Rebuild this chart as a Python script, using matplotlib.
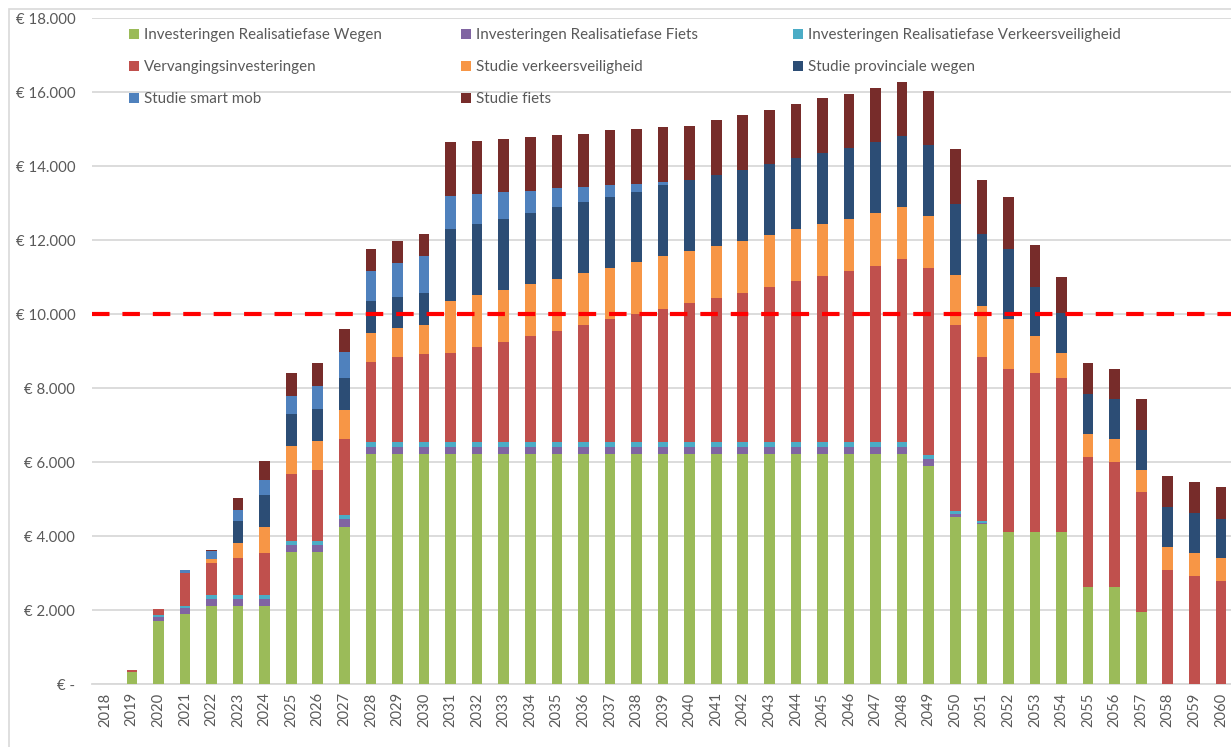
# investeringen per jaar, gestapeld per categorie
import numpy as np
import matplotlib
matplotlib.use('Agg')
import matplotlib.pyplot as plt
from matplotlib.patches import Rectangle
from matplotlib.legend import Legend

years = [str(y) for y in range(2018, 2061)]

wegen = [0, 330, 1710, 1900, 2115, 2115, 2115, 3560, 3560, 4250] + [6220] * 21 + \
    [5890, 4515, 4325, 4110, 4110, 4110, 2630, 2630, 1955, 0, 0, 0]
fiets = [0, 0, 110, 160, 190, 190, 190, 195, 195, 200] + [190] * 21 + \
    [180, 75, 30, 0, 0, 0, 0, 0, 0, 0, 0, 0]
verkeersveiligheid = [0, 0, 45, 55, 100, 100, 100, 110, 110, 110] + [125] * 21 + \
    [120, 90, 45, 0, 0, 0, 0, 0, 0, 0, 0, 0]
vervanging = [0, 45, 155, 875, 870, 990, 1140, 1810, 1930, 2060,
              2170, 2290, 2380, 2410, 2580, 2710, 2865, 3010, 3170, 3325,
              3460, 3605, 3760, 3900, 4045, 4190, 4355, 4490, 4630, 4775,
              4945, 5060, 5035, 4440, 4405, 4295, 4155, 3495, 3370, 3235,
              3090, 2920, 2785]
studie_vv = [0, 0, 0, 0, 100, 405, 705, 755, 785, 785,
             785, 785, 785, 1405, 1400, 1405, 1400, 1400, 1400, 1390,
             1405, 1415, 1400, 1395, 1395, 1415, 1395, 1405, 1395, 1425,
             1405, 1395, 1345, 1385, 1360, 1000, 675, 630, 620, 605,
             615, 620, 615]
studie_prov = [0, 0, 0, 0, 0, 595, 855, 855, 855, 855,
               865, 855, 855, 1945, 1925, 1930, 1930, 1945, 1925, 1925,
               1910, 1925, 1925, 1920, 1910, 1920, 1930, 1920, 1925, 1925,
               1920, 1910, 1925, 1930, 1875, 1315, 1080, 1080, 1075, 1075,
               1075, 1075, 1065]
studie_smart = [0, 0, 0, 80, 215, 305, 405, 495, 620, 710,
                800, 900, 1000, 900, 805, 705, 605, 505, 415, 310,
                215, 80] + [0] * 21
studie_fiets = [0, 0, 0, 0, 45, 315, 505, 615, 615, 615,
                615, 610, 620, 1445, 1440, 1440, 1450, 1435, 1425, 1480,
                1470, 1485, 1470, 1480, 1485, 1460, 1470, 1480, 1470, 1445,
                1460, 1475, 1470, 1470, 1405, 1145, 970, 845, 820, 845,
                855, 845, 855]

limit = 10000

series = [
    ('Investeringen Realisatiefase Wegen', wegen, '#9BBB59'),
    ('Investeringen Realisatiefase Fiets', fiets, '#8064A2'),
    ('Investeringen Realisatiefase Verkeersveiligheid', verkeersveiligheid, '#4BACC6'),
    ('Vervangingsinvesteringen', vervanging, '#C0504D'),
    ('Studie verkeersveiligheid', studie_vv, '#F79646'),
    ('Studie provinciale wegen', studie_prov, '#2C4D75'),
    ('Studie smart mob', studie_smart, '#4F81BD'),
    ('Studie fiets', studie_fiets, '#772C2A'),
]

textColor = '#595959'
legendSize = 10.9
plt.rcParams['font.family'] = ['Lato', 'DejaVu Sans']

fig = plt.figure(figsize=(12.31, 7.47), dpi=100)
W, H = 1231.0, 747.0
ax = fig.add_axes([92 / W, (H - 684) / H, (W - 92) / W, (684 - 18) / H])

# chart border
fig.patches.append(Rectangle((9 / W, -0.1), 1.2, (H - 9) / H + 0.1, transform=fig.transFigure,
                             fill=False, edgecolor='#D9D9D9', linewidth=1.2))

x = np.arange(len(years))
bottom = np.zeros(len(years))
handles = {}
for name, values, color in series:
    v = np.array(values, dtype=float)
    b = ax.bar(x, v, 0.40, bottom=bottom, color=color, label=name, zorder=3)
    handles[name] = b
    bottom += v

# dashed limit line
ax.axhline(limit, color='#FF0000', linewidth=3.0, dashes=(4.2, 3.1), zorder=4)

ax.set_xlim(-0.5, len(years) - 0.5 - 0.12)
ax.set_ylim(0, 18000)
ax.set_yticks(np.arange(0, 18001, 2000))
ylabels = ['€ -'] + ['€ {:,}'.format(v).replace(',', '.') for v in range(2000, 18001, 2000)]
ax.set_yticklabels(ylabels)
ax.set_xticks(x)
ax.set_xticklabels(years, rotation=90)

ax.grid(axis='y', color='#D9D9D9', linewidth=1.3, zorder=0)
ax.set_axisbelow(True)
for s in ['top', 'right', 'left']:
    ax.spines[s].set_visible(False)
ax.spines['bottom'].set_color('#D9D9D9')
ax.spines['bottom'].set_linewidth(1.3)
ax.tick_params(axis='both', length=0, colors=textColor)
ax.tick_params(axis='y', pad=12, labelsize=10.8)
ax.tick_params(axis='x', pad=6, labelsize=10.6)

# legend: three columns placed at fixed pixel positions (like the Excel legend)
names = [s[0] for s in series]
columns = [([0, 3, 6], 129), ([1, 4, 7], 461), ([2, 5], 793)]
for idx, xpx in columns:
    leg = Legend(ax, [handles[names[i]] for i in idx], [names[i] for i in idx],
                 loc='upper left', bbox_to_anchor=(xpx / W, 1 - 28.5 / H),
                 bbox_transform=fig.transFigure,
                 frameon=False, borderpad=0, borderaxespad=0,
                 handlelength=0.65, handleheight=0.65,
                 handletextpad=0.33, labelspacing=1.18,
                 fontsize=legendSize)
    for t in leg.get_texts():
        t.set_color(textColor)
    ax.add_artist(leg)

fig.savefig('out.png', dpi=100)
